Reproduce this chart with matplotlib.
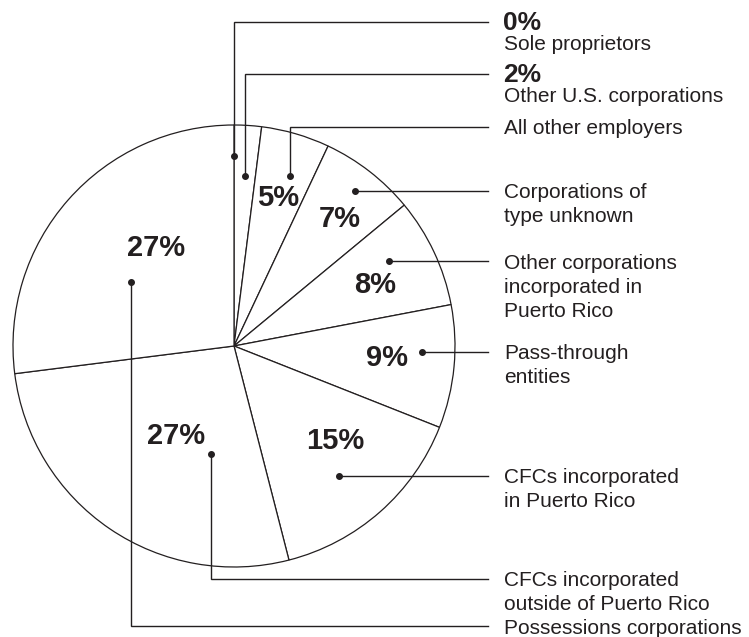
import numpy as np
import matplotlib.pyplot as plt

# shares of employment by employer type (percent), clockwise from 12 o'clock
shares = [0, 2, 5, 7, 8, 9, 15, 27, 27]
pct_labels = ['0%', '2%', '5%', '7%', '8%', '9%', '15%', '27%', '27%']
names = [
    ['Sole proprietors'],
    ['Other U.S. corporations'],
    ['All other employers'],
    ['Corporations of', 'type unknown'],
    ['Other corporations', 'incorporated in', 'Puerto Rico'],
    ['Pass-through', 'entities'],
    ['CFCs incorporated', 'in Puerto Rico'],
    ['CFCs incorporated', 'outside of Puerto Rico'],
    ['Possessions corporations'],
]

W, H = 749, 637
CX, CY, R = 234, H - 346, 221
INK = '#231f20'

# layout: leader dots (angle clockwise from top, radius px), elbow rows
dot_ang = [0, 3.7, 18.2, 38.0, 61.3, 91.8, 141.1, 192.0, 301.9]
dot_r = [190, 170, 179, 197, 177, 188, 167, 110, 121]
elbow_y = [22, 74, 127, None, None, None, None, 579, 626]  # pixel rows, None = straight
line_end_x = 488
text_x = 504
line_gap = 24

# in-pie percent label placement (for slices 2..8)
lab_ang = [None, None, 16.2, 39.2, 65.6, 93.4, 132.3, 213.7, 322.3]
lab_r = [None, None, 157, 168, 155, 153, 137, 105, 128]

plt.rcParams['font.family'] = ['Liberation Sans', 'DejaVu Sans']


def polar(a, r):
    t = np.radians(a)
    return CX + r * np.sin(t), CY + r * np.cos(t)


fig = plt.figure(figsize=(W / 100, H / 100), dpi=100)
ax = fig.add_axes([0, 0, 1, 1])
ax.pie(shares, startangle=90, counterclock=False, center=(CX, CY), radius=R,
       colors=['white'] * len(shares),
       wedgeprops=dict(edgecolor=INK, linewidth=0.9))
ax.set_xlim(0, W)
ax.set_ylim(0, H)
ax.set_aspect('equal')
ax.axis('off')

for i, lines in enumerate(names):
    dx, dy = polar(dot_ang[i], dot_r[i])
    if elbow_y[i] is None:
        ly = dy
        xs, ys = [dx, line_end_x], [dy, dy]
    else:
        ly = H - elbow_y[i]
        xs, ys = [dx, dx, line_end_x], [dy, ly, ly]
    ax.plot(xs, ys, color=INK, lw=1.0, solid_joinstyle='miter', zorder=5)
    ax.plot(dx, dy, 'o', color=INK, ms=4, zorder=6)

    ty = ly
    if lab_ang[i] is None:
        # tiny slices carry their percent next to the name
        ax.text(text_x - 1, ty + 1, pct_labels[i], fontsize=19, fontweight='bold',
                color=INK, va='center_baseline', ha='left')
        ty -= 21
    for k, s in enumerate(lines):
        ax.text(text_x, ty - k * line_gap, s, fontsize=15, color=INK,
                va='center_baseline', ha='left')

for i, lab in enumerate(pct_labels):
    if lab_ang[i] is None:
        continue
    x, y = polar(lab_ang[i], lab_r[i])
    ax.text(x, y, lab, fontsize=21, fontweight='bold', color=INK,
            ha='center', va='center_baseline')

fig.savefig('out.png', dpi=100, facecolor='white')
